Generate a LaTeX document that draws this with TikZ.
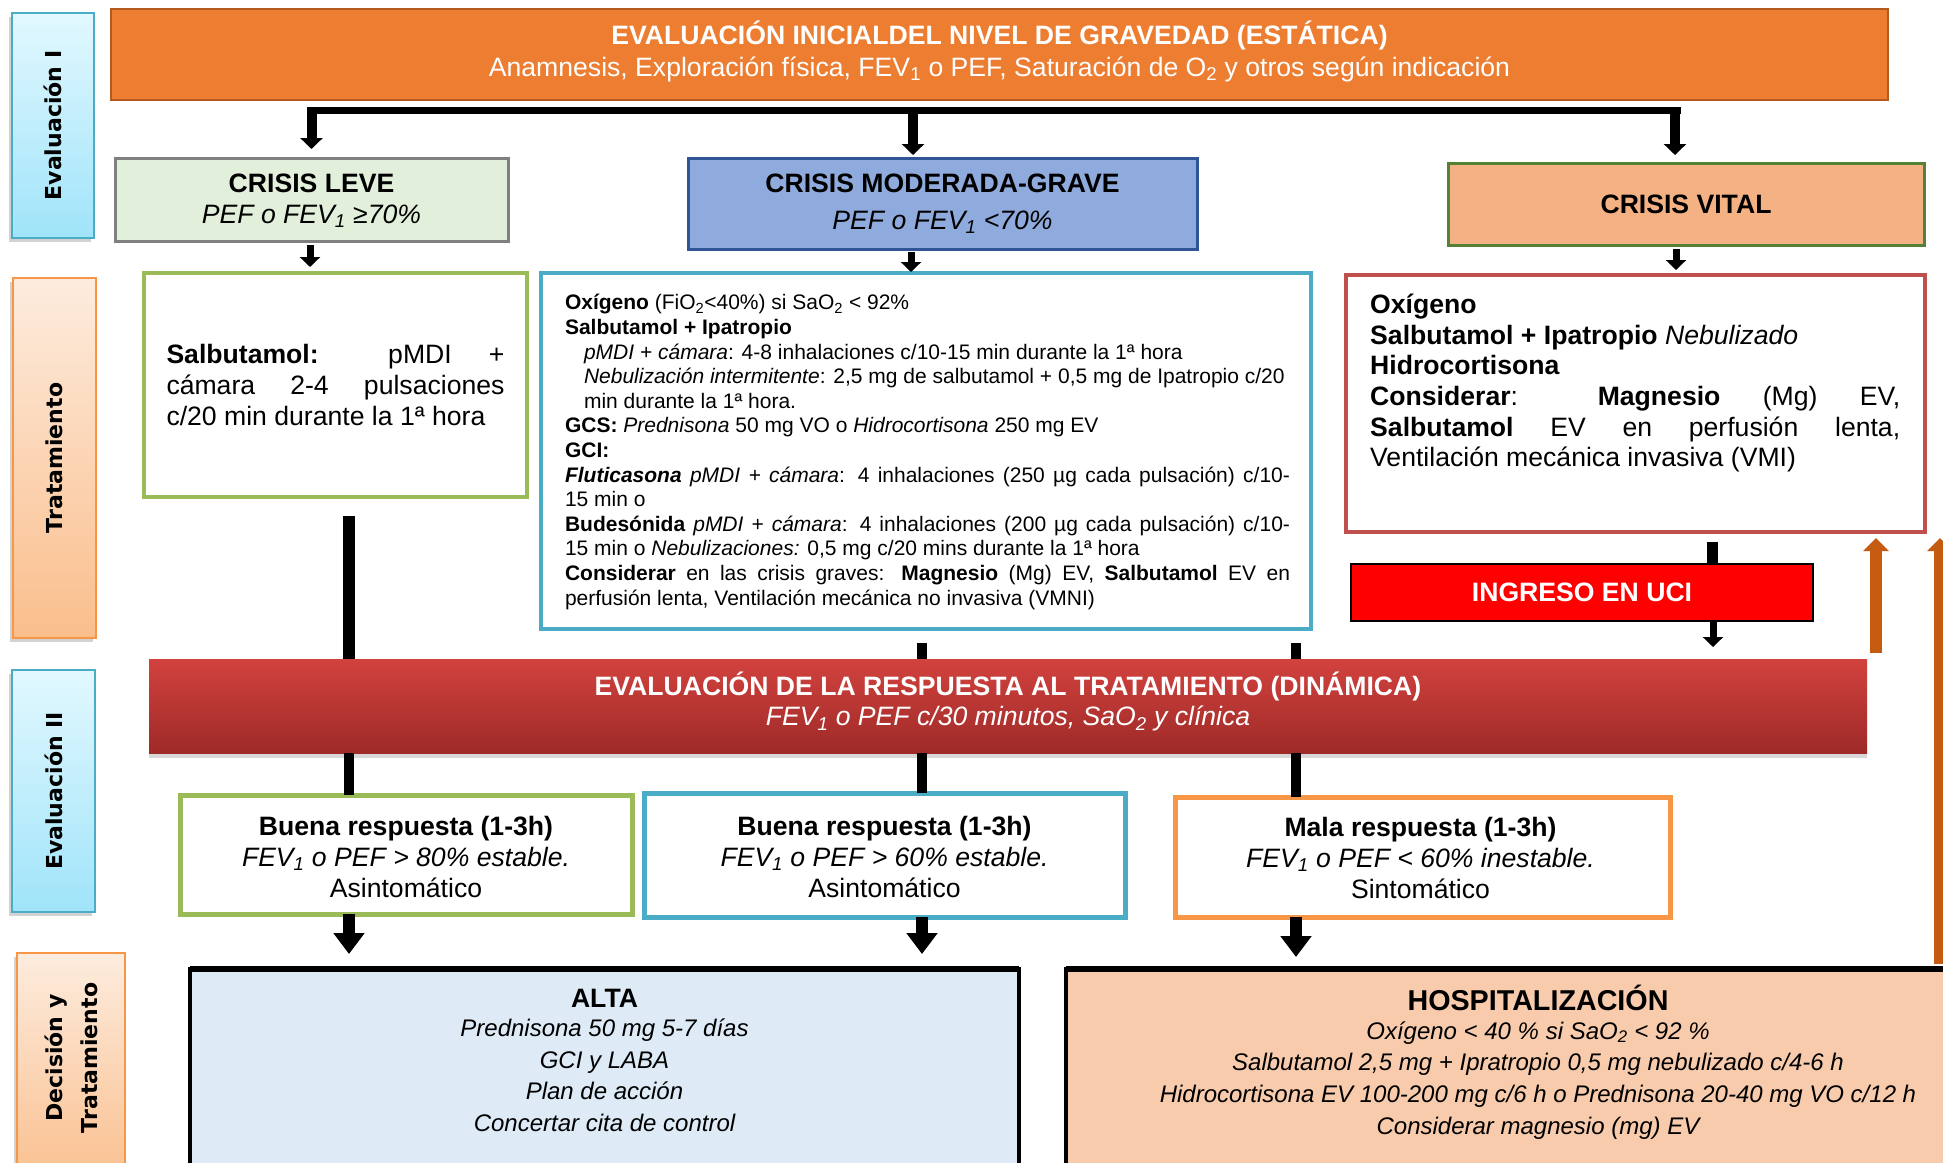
\documentclass[tikz,border=0pt]{standalone}
\usepackage{fontspec}
\setmainfont{Liberation Sans}
\newfontfamily\sidefont{DejaVu Sans}
\usetikzlibrary{arrows.meta,shadows,fit,calc}

\definecolor{cTop}{RGB}{237,125,49}
\definecolor{cTopB}{RGB}{180,90,30}
\definecolor{cLeveF}{RGB}{226,239,218}
\definecolor{cLeveB}{RGB}{128,128,128}
\definecolor{cModF}{RGB}{143,170,220}
\definecolor{cModB}{RGB}{47,85,151}
\definecolor{cVitF}{RGB}{244,177,131}
\definecolor{cVitB}{RGB}{84,130,53}
\definecolor{cGreen}{RGB}{155,187,89}
\definecolor{cBlue}{RGB}{75,172,198}
\definecolor{cRedB}{RGB}{192,80,77}
\definecolor{cOrange}{RGB}{247,150,70}
\definecolor{cBandT}{RGB}{210,66,62}
\definecolor{cBandB}{RGB}{158,42,40}
\definecolor{cAlta}{RGB}{222,235,247}
\definecolor{cHosp}{RGB}{248,203,173}
\definecolor{cArrO}{RGB}{197,90,17}
\definecolor{cCyanT}{RGB}{226,248,254}
\definecolor{cCyanB}{RGB}{160,228,250}
\definecolor{cPeachT}{RGB}{253,236,222}
\definecolor{cPeachB}{RGB}{250,190,140}

\hyphenpenalty=10000

\tikzset{
  txt/.style={inner sep=0pt, font=\fontsize{26.6}{30.6}\selectfont},
  bx/.style={rectangle, inner sep=0pt, outer sep=0pt},
  sidecyan/.style={bx, draw=cBlue, line width=2pt, top color=cCyanT, bottom color=cCyanB,
     drop shadow={shadow xshift=-3pt, shadow yshift=-4pt, opacity=0.35}},
  sidepeach/.style={bx, draw=cOrange, line width=2pt, top color=cPeachT, bottom color=cPeachB,
     drop shadow={shadow xshift=-3pt, shadow yshift=-4pt, opacity=0.35}},
  sidetext/.style={rotate=90, inner sep=0pt, align=center, font=\sidefont\bfseries\fontsize{22}{35}\selectfont},
  arrS/.style={line width=7pt, -{Triangle[width=20pt,length=10pt]}},
  arrM/.style={line width=10pt, -{Triangle[width=22pt,length=11pt]}},
  arrL/.style={line width=12pt, -{Triangle[width=30pt,length=21pt]}},
  arrO/.style={draw=cArrO, line width=12pt, -{Triangle[width=25pt,length=13pt]}},
  barK/.style={line width=#1},
}

\begin{document}
\begin{tikzpicture}[x=1pt,y=-1pt]
\useasboundingbox (0,0) rectangle (1943,1162);
\clip (0,0) rectangle (1943,1162);
\fill[white] (0,0) rectangle (1943,1162);

% ---------- side labels ----------
\node[sidecyan, fit={(12,13) (94,238)}] (sEvI) {};
\node[sidetext] (sEvItx) at (sEvI.center) {Evaluación I};
\node[sidepeach, fit={(13,278) (96,638)}] (sTrat) {};
\node[sidetext] (sTrattx) at (sTrat.center) {Tratamiento};
\node[sidecyan, fit={(12,670) (95,912)}] (sEvII) {};
\node[sidetext] (sEvIItx) at (sEvII.center) {Evaluación II};
\node[sidepeach, fit={(17,953) (125,1190)}] (sDec) {};
\node[sidetext] (sDectx) at (71,1058) {Decisión y\\Tratamiento};

% ---------- top ----------
\node[bx, fit={(111,9) (1888,100)}, fill=cTop, draw=cTopB, line width=2pt] (top) {};
\node[txt, text=white, align=center, font=\fontsize{26.6}{32}\selectfont] (toptx) at ($(top.center)+(0,-3.5)$)
  {{\bfseries EVALUACIÓN INICIALDEL NIVEL DE GRAVEDAD (ESTÁTICA)}\\
   Anamnesis, Exploración física, FEV\textsubscript{1} o PEF, Saturación de O\textsubscript{2} y otros según indicación};

% ---------- crisis boxes ----------
\node[bx, fit={(115,158) (508,241)}, fill=cLeveF, draw=cLeveB, line width=3pt] (leve) {};
\node[txt, align=center, font=\fontsize{26.6}{31}\selectfont] (levetx) at ($(leve.center)+(0,1.5)$)
  {{\bfseries CRISIS LEVE}\\\textit{PEF o FEV\textsubscript{1} ≥70\%}};
\node[bx, fit={(688,158) (1197,249)}, fill=cModF, draw=cModB, line width=3pt] (mod) {};
\node[txt, align=center, font=\fontsize{26.6}{37}\selectfont] (modtx) at (mod.center)
  {{\bfseries CRISIS MODERADA-GRAVE}\\\textit{PEF o FEV\textsubscript{1} <70\%}};
\node[bx, fit={(1448,163) (1924,245)}, fill=cVitF, draw=cVitB, line width=3pt] (vital) {};
\node[txt] (vitaltx) at (vital.center) {\bfseries CRISIS VITAL};

% ---------- treatment boxes ----------
\node[bx, fit={(144,273) (527,497)}, draw=cGreen, line width=4pt, fill=white] (leveT) {};
\node[txt, text width=338pt, align=justify, font=\fontsize{26.6}{31}\selectfont] (leveTtx) at (leveT.center)
  {\textbf{Salbutamol:} pMDI +\linebreak cámara 2-4 pulsaciones\linebreak c/20 min durante la 1ª hora};

\node[bx, fit={(541,273) (1311,629)}, draw=cBlue, line width=4pt, fill=white] (modT) {};
\node[txt, text width=725pt, align=justify, font=\fontsize{21}{24.6}\selectfont] (modTtx) at ($(modT.center)+(1.5,1)$)
  {\textbf{Oxígeno} (FiO\textsubscript{2}<40\%) si SaO\textsubscript{2} < 92\%\\
   \textbf{Salbutamol + Ipatropio}\\
   \hspace*{19pt}\textit{pMDI + cámara}: 4-8 inhalaciones c/10-15 min durante la 1ª hora\\
   \hspace*{19pt}\textit{Nebulización intermitente}: 2,5 mg de salbutamol + 0,5 mg de Ipatropio c/20\\
   \hspace*{19pt}min durante la 1ª hora.\\
   \textbf{GCS:} \textit{Prednisona} 50 mg VO o \textit{Hidrocortisona} 250 mg EV\\
   \textbf{GCI:}\\
   \textbf{\textit{Fluticasona}} \textit{pMDI + cámara}: 4 inhalaciones (250 µg cada pulsación) c/10-\linebreak 15 min o\\
   \textbf{Budesónida} \textit{pMDI + cámara}: 4 inhalaciones (200 µg cada pulsación) c/10-\linebreak 15 min o \textit{Nebulizaciones:} 0,5 mg c/20 mins durante la 1ª hora\\
   \textbf{Considerar} en las crisis graves: \textbf{Magnesio} (Mg) EV, \textbf{Salbutamol} EV en\linebreak perfusión lenta, Ventilación mecánica no invasiva (VMNI)};

\node[bx, fit={(1346,275) (1925,532)}, draw=cRedB, line width=4pt, fill=white] (vitalT) {};
\node[txt, anchor=north west, text width=530pt, align=justify] (vitalTtx)
  at ($(vitalT.north west)+(24,19)$)
  {\textbf{Oxígeno}\\
   \textbf{Salbutamol + Ipatropio} \textit{Nebulizado}\\
   \textbf{Hidrocortisona}\\
   \textbf{Considerar}: \textbf{Magnesio} (Mg) EV,\linebreak
   \textbf{Salbutamol} EV en perfusión lenta,\linebreak
   Ventilación mecánica invasiva (VMI)};

\node[bx, fit={(1351,564) (1813,621)}, fill=red, draw=black, line width=2pt] (uci) {};
\node[txt, text=white] (ucitx) at (uci.center) {\bfseries INGRESO EN UCI};

% ---------- band ----------
\node[bx, fit={(149,659) (1867,753)}, top color=cBandT, bottom color=cBandB,
      drop shadow={shadow xshift=0pt, shadow yshift=-5pt, opacity=0.3}] (band) {};
\node[txt, text=white, align=center] (bandtx) at ([yshift=4.5pt]band.center)
  {{\bfseries EVALUACIÓN DE LA RESPUESTA AL TRATAMIENTO (DINÁMICA)}\\
   \textit{FEV\textsubscript{1} o PEF c/30 minutos, SaO\textsubscript{2} y clínica}};

% ---------- responses ----------
\node[bx, fit={(180,795) (632,914)}, draw=cGreen, line width=5pt, fill=white] (r1) {};
\node[txt, align=center] (r1tx) at ($(r1.center)+(0,2.5)$)
  {{\bfseries Buena respuesta (1-3h)}\\ \textit{FEV\textsubscript{1} o PEF > 80\% estable.}\\ Asintomático};
\node[bx, fit={(644,793) (1125,917)}, draw=cBlue, line width=5pt, fill=white] (r2) {};
\node[txt, align=center] (r2tx) at ($(r2.center)+(0,2)$)
  {{\bfseries Buena respuesta (1-3h)}\\ \textit{FEV\textsubscript{1} o PEF > 60\% estable.}\\ Asintomático};
\node[bx, fit={(1175,797) (1670,917)}, draw=cOrange, line width=5pt, fill=white] (r3) {};
\node[txt, align=center] (r3tx) at ($(r3.center)+(-2,1)$)
  {{\bfseries Mala respuesta (1-3h)}\\ \textit{FEV\textsubscript{1} o PEF < 60\% inestable.}\\ Sintomático};

% ---------- decision ----------
\node[bx, fit={(190,969) (1019,1190)}, fill=cAlta, draw=black, line width=3.5pt] (alta) {};
\draw[line width=6pt] (alta.north west) -- (alta.north east);
\node[anchor=north, inner sep=0pt, align=center, font=\fontsize{24}{31.6}\selectfont\itshape] (altatx)
  at ($(alta.north)+(0,19.5)$)
  {{\fontsize{26.6}{30}\selectfont\upshape\bfseries ALTA}\\[-1.9pt]
   Prednisona 50 mg 5-7 días\\ GCI y LABA\\ Plan de acción\\ Concertar cita de control};

\node[bx, fit={(1066,969) (2010,1190)}, fill=cHosp, draw=black, line width=3.5pt] (hosp) {};
\draw[line width=6pt] (hosp.north west) -- (hosp.north east);
\node[anchor=north, inner sep=0pt, align=center, font=\fontsize{24}{31.6}\selectfont\itshape] (hosptx)
  at ($(hosp.north)+(0,16.3)$)
  {{\fontsize{28.7}{30}\selectfont\upshape\bfseries HOSPITALIZACIÓN}\\[-3.3pt]
   Oxígeno < 40 \% si SaO\textsubscript{2} < 92 \%\\
   Salbutamol 2,5 mg + Ipratropio 0,5 mg nebulizado c/4-6 h\\
   Hidrocortisona EV 100-200 mg c/6 h o Prednisona 20-40 mg VO c/12 h\\
   Considerar magnesio (mg) EV};

% ---------- connectors ----------
\coordinate (bL) at (307,110.5);
\coordinate (bR) at (1681,110.5);
\coordinate (mA) at (913,107);
\coordinate (vA) at (1675,107);
\draw[barK=7pt] (bL) -- (bR);
\draw[arrM] ($(bL -| leve.north)+(0,-3.5)$) -- ($(leve.north)+(0,-9)$);
\draw[arrM] (mA) -- ($(mA |- mod.north)+(0,-3)$);
\draw[arrM] (vA) -- ($(vA |- vital.north)+(0,-8)$);

\draw[arrS] ($(leve.south)+(-1.5,4)$) -- ($(leveT.north -| leve.south)+(-1.5,-6)$);
\draw[arrS] ($(mod.south)+(-31.5,3)$) -- ($(modT.north -| mod.south)+(-31.5,-1)$);
\draw[arrS] ($(vital.south)+(-10,4)$) -- ($(vitalT.north -| vital.south)+(-10,-5)$);

\draw[barK=12pt] ($(leveT.south)+(13.5,19)$) -- ($(band.north -| leveT.south)+(13.5,0)$);
\draw[barK=10pt] ($(modT.south)+(-4,14)$) -- ($(band.north -| modT.south)+(-4,0)$);
\draw[barK=10pt] ($(modT.south)+(370,14)$) -- ($(band.north -| modT.south)+(370,0)$);

\draw[barK=10pt] ($(band.south -| r1.north)+(-57,0)$) -- ($(r1.north)+(-57,0)$);
\draw[barK=10pt] ($(band.south -| r2.north)+(37.5,0)$) -- ($(r2.north)+(37.5,0)$);
\draw[barK=10pt] ($(band.south -| r3.north)+(-126.5,0)$) -- ($(r3.north)+(-126.5,0)$);

\draw[arrL] ($(r1.south)+(-57,0)$) -- ($(alta.north -| r1.south)+(-57,-15)$);
\draw[arrL] ($(r2.south)+(37.5,0)$) -- ($(alta.north -| r2.south)+(37.5,-15)$);
\draw[arrL] ($(r3.south)+(-126.5,0)$) -- ($(hosp.north -| r3.south)+(-126.5,-12)$);

\draw[barK=11pt] ($(vitalT.south)+(77,10)$) -- ($(uci.north -| vitalT.south)+(77,0)$);
\draw[arrS] ($(uci.south)+(131,0)$) -- ($(band.north -| uci.south)+(131,-12)$);

\draw[arrO] ($(band.north east)+(9,-6)$) -- ($(vitalT.south -| band.north east)+(9,6)$);
\draw[arrO] ($(hosp.north east)+(-70,-5)$) -- ($(vitalT.south -| hosp.north east)+(-70,6)$);
\end{tikzpicture}
\end{document}
